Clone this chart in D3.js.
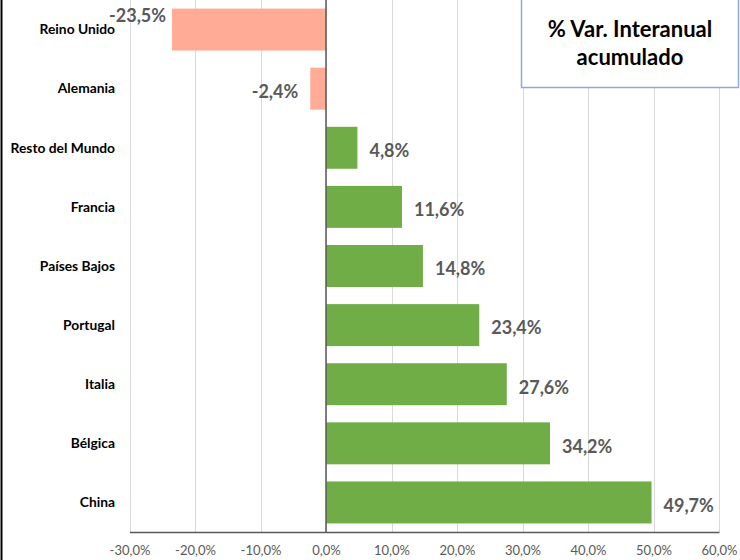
<!DOCTYPE html>
<html>
<head>
<meta charset="utf-8">
<script src="https://cdn.jsdelivr.net/npm/d3@7"></script>
<style>
  body { margin: 0; background: #fff; }
  text { font-family: Lato, "Open Sans", sans-serif; }
</style>
</head>
<body>
<div id="chart"></div>
<script>
const paises = ["Reino Unido", "Alemania", "Resto del Mundo", "Francia", "Países Bajos", "Portugal", "Italia", "Bélgica", "China"];
const variacion = [-23.5, -2.4, 4.8, 11.6, 14.8, 23.4, 27.6, 34.2, 49.7];
const ticksX = [-30, -20, -10, 0, 10, 20, 30, 40, 50, 60];
const tituloLineas = ["% Var. Interanual", "acumulado"];

const data = paises.map((p, i) => ({ pais: p, valor: variacion[i] }));

const width = 740, height = 560;
const margin = { top: 0, right: 21, bottom: 28, left: 129.5 };

const svg = d3.select("#chart")
    .append("svg")
    .attr("width", width)
    .attr("height", height);

const xScale = d3.scaleLinear()
    .domain([d3.min(ticksX), d3.max(ticksX)])
    .range([margin.left, width - margin.right]);

const yScale = d3.scaleBand()
    .domain(paises)
    .range([margin.top, height - margin.bottom])
    .paddingInner(0.29)
    .paddingOuter(0.145);

const fmt = v => v.toFixed(1).replace(".", ",") + "%";
const yBottom = height - margin.bottom;

// borde izquierdo
svg.append("line")
    .attr("x1", 1.5).attr("x2", 1.5)
    .attr("y1", 0).attr("y2", height)
    .attr("stroke", "#000")
    .attr("stroke-width", 2);

// rejilla vertical
svg.append("g")
    .selectAll("line")
    .data(ticksX)
    .enter()
    .append("line")
    .attr("x1", d => Math.round(xScale(d)) + 0.5)
    .attr("x2", d => Math.round(xScale(d)) + 0.5)
    .attr("y1", margin.top)
    .attr("y2", yBottom)
    .attr("stroke", "#D9D9D9")
    .attr("stroke-width", 1);

// barras
svg.selectAll("rect.bar")
    .data(data)
    .enter()
    .append("rect")
    .attr("class", "bar")
    .attr("x", d => xScale(Math.min(0, d.valor)))
    .attr("y", d => yScale(d.pais))
    .attr("width", d => Math.abs(xScale(d.valor) - xScale(0)))
    .attr("height", yScale.bandwidth())
    .attr("fill", d => d.valor < 0 ? "#FFAB96" : "#70AD47");

// eje vertical en cero
svg.append("line")
    .attr("x1", xScale(0)).attr("x2", xScale(0))
    .attr("y1", margin.top).attr("y2", yBottom)
    .attr("stroke", "#595959")
    .attr("stroke-width", 1.5);

// eje x
const xAxis = svg.append("g")
    .attr("transform", `translate(0,${yBottom})`)
    .call(d3.axisBottom(xScale).tickValues(ticksX).tickFormat(fmt).tickSize(0).tickPadding(14));
xAxis.select(".domain").attr("stroke", "#595959").attr("stroke-width", 1.5);
xAxis.selectAll("text")
    .style("font-family", "Lato, sans-serif")
    .style("font-size", "13px")
    .attr("fill", "#595959");

// etiquetas de categoría
svg.append("g")
    .selectAll("text")
    .data(data)
    .enter()
    .append("text")
    .attr("x", 115)
    .attr("y", d => yScale(d.pais) + yScale.bandwidth() / 2)
    .attr("dy", "0.35em")
    .attr("text-anchor", "end")
    .style("font-size", "13.8px")
    .style("font-weight", "bold")
    .attr("fill", "#000")
    .text(d => d.pais);

// etiquetas de datos
svg.append("g")
    .selectAll("text")
    .data(data)
    .enter()
    .append("text")
    .attr("x", d => d.valor < 0 ? xScale(d.valor) - (xScale(d.valor) < 200 ? 6 : 12) : xScale(d.valor) + 12)
    // si la etiqueta negativa choca con el nombre, subirla
    .attr("y", d => yScale(d.pais) + yScale.bandwidth() / 2 + (d.valor < 0 && xScale(d.valor) < 200 ? -14 : 3))
    .attr("dy", "0.35em")
    .attr("text-anchor", d => d.valor < 0 ? "end" : "start")
    .style("font-size", "18px")
    .style("font-weight", "bold")
    .attr("fill", "#595959")
    .text(d => fmt(d.valor));

// cuadro de título
svg.append("rect")
    .attr("x", 521.5)
    .attr("y", -1)
    .attr("width", 217)
    .attr("height", 88.5)
    .attr("fill", "#fff")
    .attr("stroke", "#8EA9DB")
    .attr("stroke-width", 1.5);

svg.append("text")
    .attr("x", 630)
    .attr("text-anchor", "middle")
    .style("font-size", "22px")
    .style("font-weight", "bold")
    .attr("fill", "#000")
    .selectAll("tspan")
    .data(tituloLineas)
    .enter()
    .append("tspan")
    .attr("x", 630)
    .attr("y", (d, i) => 37 + i * 28)
    .text(d => d);
</script>
</body>
</html>
